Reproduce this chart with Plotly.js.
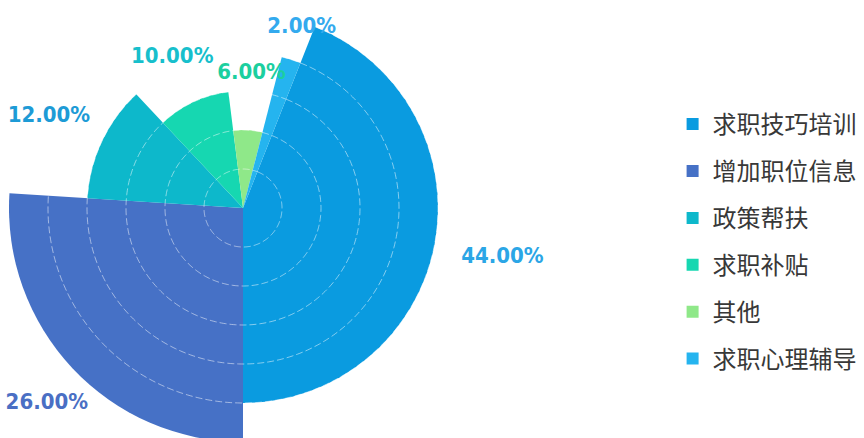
<!DOCTYPE html>
<html><head><meta charset="utf-8">
<script src="https://cdn.plot.ly/plotly-3.0.1.min.js"></script>
<style>
html,body{margin:0;padding:0;overflow:hidden;background:#fff;width:864px;height:438px}
#chart{position:absolute;left:-60px;top:-90px;width:924px;height:600px}
</style>
</head><body><div id="chart"></div>
<script>
// ---- data ----
const categories = ['求职技巧培训','增加职位信息','政策帮扶','求职补贴','其他','求职心理辅导'];
const shares = [44, 26, 12, 10, 6, 2];          // percent -> sector angle
const radii = [5, 6, 4, 3, 2, 4];               // sector length
const labels = ['44.00%','26.00%','12.00%','10.00%','6.00%','2.00%'];
const gridRings = [1, 2, 3, 4, 5];

// ---- style ----
const colors = ['#0a9be0','#4671c6','#0db8cb','#16d7b1','#8fe889','#25b4ef'];
const labelColors = ['#2ba6e6','#4a6fc4','#1d9bd6','#17bfcc','#1ccf9f','#33aaee'];
const labelPad = [1.77, 0.9, 1.5, 1.26, 1.46, 0.87];
const labelPos = ['middle center','bottom center','middle center','middle center','middle center','middle center'];

const total = shares.reduce((a,b)=>a+b,0);
const widths = shares.map(v => v/total*360);
const centers = [];
let acc = 0;
widths.forEach(w => { centers.push(acc + w/2); acc += w; });

const traces = categories.map((c,i) => ({
  type:'barpolar', name:c, legendgroup:'g'+i,
  r:[radii[i]], theta:[centers[i]], width:[widths[i]],
  marker:{color:colors[i], line:{width:0}},
  hoverinfo:'name'
}));
// dashed grid rings drawn over the sectors
const ringTheta = [];
for (let a = 0; a <= 360; a += 1) ringTheta.push(a);
gridRings.forEach(rr => traces.push({
  type:'scatterpolar', mode:'lines', showlegend:false, hoverinfo:'skip',
  r: ringTheta.map(()=>rr), theta: ringTheta,
  line:{color:'rgba(255,255,255,0.5)', width:1, dash:'7px,3px'}
}));
traces.push({
  type:'scatterpolar', mode:'text', showlegend:false, hoverinfo:'skip',
  r: radii.map((r,i)=>r+labelPad[i]), theta: centers, text: labels,
  textposition: labelPos, cliponaxis:false,
  textfont:{family:'"DejaVu Sans Condensed","DejaVu Sans",sans-serif', stretch:'condensed',
    size:22, weight:'bold', color:labelColors}
});

const layout = {
  width:924, height:600,
  margin:{l:0,r:0,t:0,b:0},
  paper_bgcolor:'#fff',
  showlegend:true,
  legend:{x:(672.6+60)/924, xanchor:'left', y:0.68, yanchor:'top', tracegroupgap:12.7,
    font:{family:'"Noto Sans CJK SC",sans-serif', size:24, color:'#383838'}},
  polar:{
    domain:{x:[10.5/924, 595.5/924], y:[9.5/600, 594.5/600]},
    bgcolor:'#fff',
    radialaxis:{range:[0,7.5], showgrid:false, showticklabels:false, ticks:'', showline:false},
    angularaxis:{direction:'clockwise', rotation:90-21.6, showgrid:false, showline:false,
      showticklabels:false, ticks:''}
  }
};
Plotly.newPlot('chart', traces, layout, {displayModeBar:false, staticPlot:true});
</script></body></html>
